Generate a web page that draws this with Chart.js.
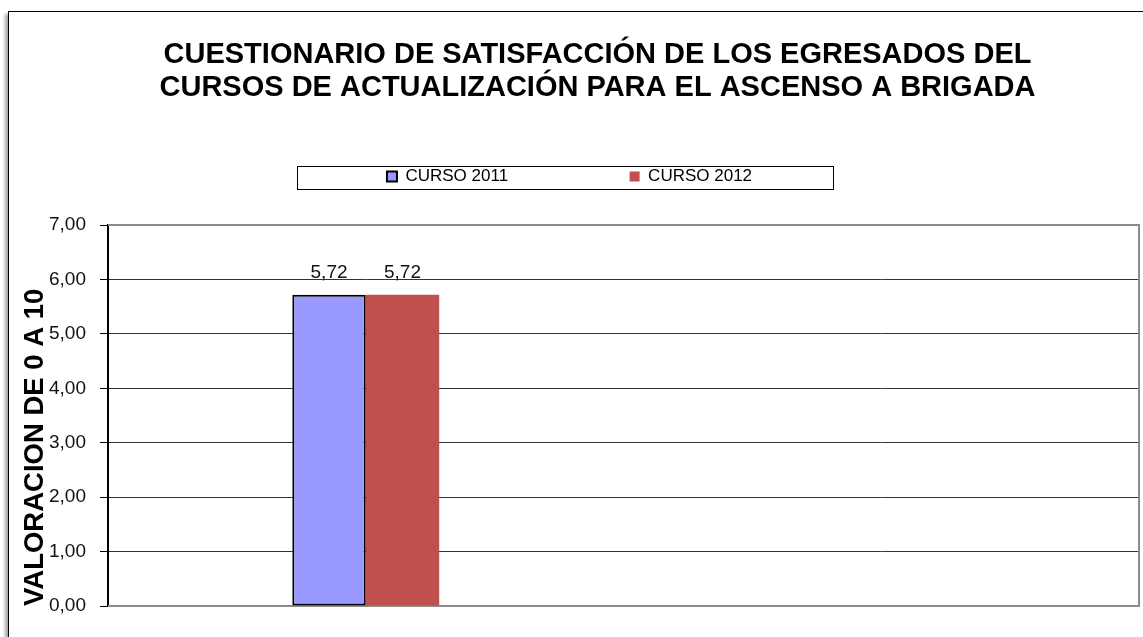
<!DOCTYPE html>
<html lang="es">
<head>
    <meta charset="UTF-8">
    <title>Cuestionario de satisfacción - Ascenso a Brigada</title>
    <script src="https://cdn.jsdelivr.net/npm/chart.js"></script>
    <style>
        html, body { margin: 0; padding: 0; background: #fff; overflow: hidden; }
        #frame {
            position: absolute; left: 8px; top: 11px; width: 1200px; height: 700px;
            border: 1px solid #000; box-shadow: -3px 3px 3px rgba(0, 0, 0, 0.35);
        }
        #wrap { position: absolute; left: 0; top: 0; width: 1143px; height: 637px; }
    </style>
</head>
<body>
    <div id="frame"></div>
    <div id="wrap"><canvas id="chart"></canvas></div>

    <script>
        // two category slots on the x axis, only the first one has values
        const categories = ['', ''];
        const curso2011 = [5.72, null];
        const curso2012 = [5.72, null];
        const yTicks = { min: 0, max: 7, step: 1 };

        const titleLines = [
            'CUESTIONARIO DE SATISFACCIÓN DE LOS EGRESADOS DEL',
            'CURSOS DE ACTUALIZACIÓN PARA EL ASCENSO A BRIGADA'
        ];
        const yTitle = 'VALORACION DE 0 A 10';

        const fmt = v => v.toFixed(2).replace('.', ',');

        Chart.defaults.font.family = "'Liberation Sans', Arial, sans-serif";
        Chart.defaults.color = '#000';

        // Excel put the title a bit right of the legend centre
        const shiftTitle = {
            id: 'shiftTitle',
            afterLayout(chart) {
                chart.titleBlock.left += 28;
                chart.titleBlock.right += 28;
            }
        };

        // gray plot border (top, right, bottom)
        const plotFrame = {
            id: 'plotFrame',
            beforeDatasetsDraw(chart) {
                const { ctx, chartArea: a } = chart;
                ctx.save();
                ctx.strokeStyle = '#8c8c8c';
                ctx.lineWidth = 2;
                ctx.beginPath();
                ctx.moveTo(a.left, a.top);
                ctx.lineTo(a.right, a.top);
                ctx.lineTo(a.right, a.bottom);
                ctx.lineTo(a.left, a.bottom);
                ctx.stroke();
                ctx.restore();
            }
        };

        // box round the legend
        const legendBox = {
            id: 'legendBox',
            afterDraw(chart) {
                const boxes = chart.legend.legendHitBoxes;
                if (!boxes.length) return;
                const first = boxes[0], last = boxes[boxes.length - 1];
                const cx = (first.left + last.left + last.width) / 2 - 5;
                const cy = first.top + first.height / 2;
                const ctx = chart.ctx;
                ctx.save();
                ctx.strokeStyle = '#000';
                ctx.lineWidth = 1;
                ctx.strokeRect(Math.round(cx - 268) + 0.5, Math.round(cy - 11) + 0.5, 536, 23);
                ctx.restore();
            }
        };

        // value above each bar
        const valueLabels = {
            id: 'valueLabels',
            afterDatasetsDraw(chart) {
                const ctx = chart.ctx;
                ctx.save();
                ctx.font = "19px 'Liberation Sans', Arial, sans-serif";
                ctx.fillStyle = '#111';
                ctx.textAlign = 'center';
                ctx.textBaseline = 'alphabetic';
                chart.data.datasets.forEach((ds, i) => {
                    chart.getDatasetMeta(i).data.forEach((bar, j) => {
                        if (ds.data[j] == null) return;
                        ctx.fillText(fmt(ds.data[j]), bar.x, bar.y - 17);
                    });
                });
                ctx.restore();
            }
        };

        new Chart(document.getElementById('chart'), {
            type: 'bar',
            data: {
                labels: categories,
                datasets: [{
                    label: 'CURSO 2011',
                    data: curso2011,
                    backgroundColor: '#9999ff',
                    borderColor: '#000',
                    borderWidth: 2,
                    borderSkipped: false,
                    categoryPercentage: 0.285,
                    barPercentage: 1.0
                }, {
                    label: 'CURSO 2012',
                    data: curso2012,
                    backgroundColor: '#c0504d',
                    borderWidth: 0,
                    categoryPercentage: 0.285,
                    barPercentage: 1.0
                }]
            },
            options: {
                responsive: true,
                maintainAspectRatio: false,
                animation: false,
                layout: { padding: { top: 12, left: 0, right: 4, bottom: 31 } },
                plugins: {
                    title: {
                        display: true,
                        text: titleLines,
                        color: '#000',
                        font: { size: 29, weight: 'bold', lineHeight: 1.15 },
                        padding: { top: 26, bottom: -58.2 }
                    },
                    legend: {
                        position: 'top',
                        labels: {
                            boxWidth: 10,
                            boxHeight: 10,
                            padding: 121.5,
                            color: '#000',
                            font: { size: 17 }
                        }
                    },
                    tooltip: { enabled: false }
                },
                scales: {
                    x: {
                        position: 'top',
                        grid: { display: false },
                        border: { display: false },
                        ticks: { display: false },
                        afterFit(scale) { scale.height = 30; }
                    },
                    y: {
                        min: yTicks.min,
                        max: yTicks.max,
                        afterFit(scale) { scale.width = 108; },
                        ticks: {
                            stepSize: yTicks.step,
                            padding: 14,
                            color: '#111',
                            font: { size: 19 },
                            callback: v => fmt(v)
                        },
                        grid: { color: '#333', lineWidth: 1, tickLength: 8, tickColor: '#000' },
                        border: { display: true, color: '#000', width: 2 },
                        title: {
                            display: true,
                            text: yTitle,
                            align: 'start',
                            color: '#000',
                            font: { size: 27.5, weight: 'bold' },
                            padding: { top: 19, bottom: 0 }
                        }
                    }
                }
            },
            plugins: [shiftTitle, plotFrame, legendBox, valueLabels]
        });
    </script>
</body>
</html>
